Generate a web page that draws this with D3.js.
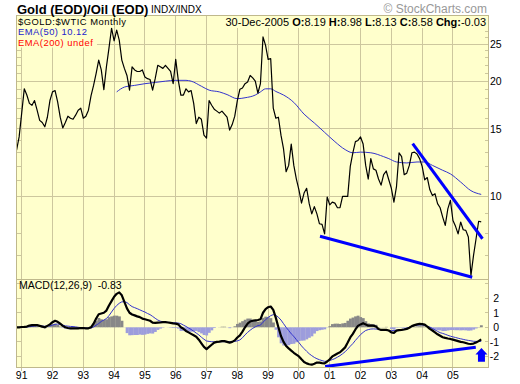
<!DOCTYPE html>
<html><head><meta charset="utf-8">
<script src="https://cdn.jsdelivr.net/npm/d3@7"></script>
<style>
html,body{margin:0;padding:0;background:#fff;}
svg{display:block;}
text{font-family:"Liberation Sans",Arial,sans-serif;}
</style></head><body>
<svg id="c" width="520" height="384"></svg>
<script>
// ---------- DATA ----------
// month index m: 0 = Jan 1991; closes start at m = -2 (Nov 1990)
const firstMonthIndex = -2;
const closes = [
 13.2,14.3,
 16.5,19.1,18.4,17.5,17.3,17.8,16.8,15.8,15.6,15.2,16.1,17.8,
 18.75,18.9,17.65,16.1,15.1,15.6,16.2,16.0,15.9,16.3,16.8,17.0,
 16.0,16.2,16.8,18.3,19.5,20.95,22.7,21.4,19.0,21.8,24.4,27.5,
 25.5,27.2,25.6,22.7,21.6,20.7,18.95,21.8,21.4,21.2,21.2,21.4,
 20.5,20.3,20.2,18.95,20.3,22.0,21.8,21.6,22.0,21.6,21.2,19.7,
 22.8,20.1,18.4,18.4,19.1,18.75,18.9,17.5,15.5,16.1,15.9,14.45,
 14.2,17.8,17.3,16.9,16.7,16.5,16.7,16.4,16.1,14.9,15.4,16.2,
 17.8,19.05,19.2,19.7,19.9,20.7,20.4,20.0,18.6,19.7,26.1,24.8,
 22.8,22.9,17.0,16.0,16.1,14.45,13.3,11.6,12.05,13.7,12.05,11.1,
 10.4,9.6,10.2,10.5,9.57,9.0,9.4,9.0,8.48,8.45,7.98,9.96,
 9.5,9.66,9.6,9.34,9.34,10.0,10.0,10.0,11.98,13.0,13.9,14.0,
 14.3,13.7,12.05,11.1,12.55,11.8,11.7,11.1,10.7,11.4,11.65,11.05,
 10.5,9.66,10.6,13.0,12.7,11.4,11.5,12.05,13.0,13.05,12.9,12.55,
 11.98,11.05,11.2,10.4,10.06,10.16,9.57,9.34,8.83,8.4,9.28,9.76,
 8.65,8.35,7.98,8.57,8.18,8.15,7.83,6.21,7.0,7.75,8.61,8.58
];
// EMA(50) read at sample months
const emaMonths = [37,40,44,48,52,56,60,64,66,70,73,77,80,84,87,91,93,95,97,99,102,104,106,110,114,118,122,126,129,132,136,141,143,146,150,154,157,160,164,167,171,175,179];
const emaValues = [18.75,19.3,19.5,19.7,19.85,20.0,20.1,20.1,20.0,19.4,18.95,18.75,18.45,18.0,18.1,18.4,18.75,19.1,19.1,18.8,18.4,18.05,17.6,16.4,15.55,14.7,13.9,13.25,13.0,13.05,13.0,12.7,12.55,12.3,12.23,12.3,12.3,12.05,11.7,11.45,10.9,10.35,10.12];
// MACD(12,26,9) line and signal, monthly from Nov 1990
const macd = [
 0,0,
 0.02,0.03,0.05,0.12,0.15,0.15,0.15,0.1,0.05,0.0,0.1,0.2,
 0.35,0.45,0.38,0.25,0.1,0.0,-0.05,-0.07,-0.07,-0.07,-0.07,-0.05,
 -0.05,-0.07,-0.07,0.0,0.25,0.6,0.9,0.95,1.0,1.15,1.5,1.8,
 2.1,2.3,2.4,2.2,1.75,1.3,1.0,0.88,0.82,0.75,0.7,0.6,
 0.55,0.5,0.45,0.32,0.3,0.32,0.33,0.35,0.35,0.33,0.3,0.27,
 0.25,0.2,0.0,-0.1,-0.25,-0.35,-0.45,-0.55,-0.65,-0.85,-1.1,-1.35,
 -1.5,-1.35,-1.2,-1.05,-1.0,-0.98,-0.95,-0.95,-1.0,-1.05,-1.0,-0.9,
 -0.7,-0.55,-0.3,0.0,0.25,0.4,0.45,0.48,0.5,0.55,1.0,1.25,
 1.38,1.43,1.2,0.65,0.0,-0.6,-1.0,-1.28,-1.45,-1.6,-1.75,-1.88,
 -2.0,-2.2,-2.38,-2.48,-2.54,-2.57,-2.5,-2.42,-2.43,-2.46,-2.48,-2.35,
 -2.2,-2.0,-1.9,-1.8,-1.72,-1.55,-1.38,-1.05,-0.7,-0.45,-0.15,0.1,
 0.2,0.28,0.2,0.11,0.11,0.11,0.05,-0.12,-0.18,-0.18,-0.18,-0.22,
 -0.35,-0.38,-0.23,-0.2,-0.18,-0.15,-0.11,-0.03,0.08,0.15,0.2,0.23,
 0.22,0.18,0.05,-0.11,-0.22,-0.35,-0.48,-0.58,-0.68,-0.73,-0.77,-0.8,
 -0.85,-0.9,-0.95,-1.0,-1.03,-1.08,-1.13,-1.15,-1.12,-1.05,-0.95,-0.83
];
const signal = [
 0,0,
 0,0.01,0.02,0.04,0.06,0.08,0.1,0.1,0.09,0.07,0.08,0.1,
 0.15,0.21,0.22,0.2,0.15,0.1,0.08,0.06,0.05,0.03,0.0,-0.02,
 -0.03,-0.05,-0.06,-0.05,0.02,0.15,0.26,0.4,0.5,0.6,0.8,1.05,
 1.3,1.5,1.65,1.75,1.76,1.7,1.55,1.42,1.35,1.28,1.2,1.12,
 1.05,0.95,0.87,0.75,0.62,0.5,0.42,0.38,0.35,0.34,0.33,0.32,
 0.3,0.29,0.25,0.15,0.06,-0.05,-0.15,-0.27,-0.4,-0.52,-0.68,-0.82,
 -0.94,-0.97,-0.99,-1.0,-1.0,-0.99,-0.99,-0.99,-0.99,-0.99,-0.99,-0.97,
 -0.93,-0.87,-0.72,-0.52,-0.35,-0.2,-0.07,0.03,0.12,0.15,0.35,0.52,
 0.68,0.8,0.87,0.82,0.69,0.5,0.25,0.0,-0.22,-0.45,-0.62,-0.85,
 -1.05,-1.28,-1.47,-1.65,-1.82,-1.95,-2.07,-2.16,-2.23,-2.29,-2.34,-2.33,
 -2.28,-2.22,-2.15,-2.05,-1.95,-1.82,-1.68,-1.5,-1.3,-1.12,-0.9,-0.7,
 -0.5,-0.35,-0.22,-0.16,-0.12,-0.11,-0.12,-0.14,-0.17,-0.19,-0.21,-0.22,
 -0.23,-0.22,-0.2,-0.18,-0.15,-0.11,-0.06,0.0,0.07,0.11,0.14,0.16,
 0.16,0.12,0.06,0.02,-0.08,-0.18,-0.28,-0.37,-0.42,-0.48,-0.55,-0.61,
 -0.66,-0.7,-0.75,-0.79,-0.83,-0.87,-0.9,-0.93,-0.96,-0.97,-0.97,-0.97
];
// trend lines drawn on the chart: [monthIndex, value]
const priceTrendLower = [[116.2,7.87],[175.5,6.15]];
const priceTrendUpper = [[152.3,13.74],[179.5,7.75]];
const macdTrend = [[118.2,-2.69],[176.9,-1.37]];
const arrowAt = {m:179.1, from:-2.37, to:-1.42};
// axis ticks
const yearLabels = ["91","92","93","94","95","96","97","98","99","00","01","02","03","04","05"];
const priceMajorTicks = [10,15,20,25];
const priceMinorTicks = [7,8,9,11,12,13,14,16,17,18,19,21,22,23,24,26,27,28,29];
const macdTicks = [2,1,0,-1,-2];
const macdMinorTicks = [3,2,1,0,-1,-2];
const legendLines = [["$GOLD:$WTIC Monthly","#000000"],["EMA(50) 10.12","#2222cc"],["EMA(200) undef","#ff0000"]];

// ---------- LAYOUT ----------
const L=16.5, R=488.5, T=15.5, MID=279.5, B=367.5;
const BG="#ffffcc", GRID="#cdc79e", BORDER="#bfb88c";
const svg=d3.select("#c");
const x=d3.scaleLinear().domain([0,179]).range([21.7,481.2]);
const y=d3.scaleLog().domain([6.065,29.69]).range([MID,T]);
const ym=d3.scaleLinear().domain([-2.763,3.285]).range([B,MID]);
const snap=v=>Math.round(v-0.5)+0.5;

svg.append("rect").attr("width",520).attr("height",384).attr("fill","#fff");
svg.append("rect").attr("x",L).attr("y",T).attr("width",R-L).attr("height",MID-T).attr("fill",BG);
svg.append("rect").attr("x",L).attr("y",MID).attr("width",R-L).attr("height",B-MID).attr("fill",BG);

const defs=svg.append("defs");
defs.append("clipPath").attr("id","cp1").append("rect").attr("x",L).attr("y",T).attr("width",R-L).attr("height",MID-T);
defs.append("clipPath").attr("id","cp2").append("rect").attr("x",L).attr("y",MID).attr("width",R-L).attr("height",B-MID);

const grid=svg.append("g").attr("stroke",GRID).attr("stroke-width",1).attr("shape-rendering","crispEdges");
const yearIdx=yearLabels.map((d,i)=>i*12);
yearIdx.forEach(m=>{
  const xx=snap(x(m));
  grid.append("line").attr("x1",xx).attr("x2",xx).attr("y1",T).attr("y2",B+3);
});
priceMajorTicks.forEach(v=>{
  const yy=snap(y(v));
  grid.append("line").attr("x1",L).attr("x2",R).attr("y1",yy).attr("y2",yy);
});
priceMinorTicks.forEach(v=>{
  const yy=snap(y(v));
  grid.append("line").attr("x1",L).attr("x2",L+4).attr("y1",yy).attr("y2",yy);
  grid.append("line").attr("x1",R-4).attr("x2",R).attr("y1",yy).attr("y2",yy);
});
macdMinorTicks.forEach(v=>{
  const yy=snap(ym(v));
  grid.append("line").attr("x1",L).attr("x2",L+4).attr("y1",yy).attr("y2",yy);
  grid.append("line").attr("x1",R-4).attr("x2",R).attr("y1",yy).attr("y2",yy);
});

// ---------- MAIN PANEL ----------
const g1=svg.append("g").attr("clip-path","url(#cp1)");
const emaPts=emaMonths.map((m,i)=>[m,emaValues[i]]);
g1.append("path").datum(emaPts)
  .attr("d",d3.line().x(d=>x(d[0])).y(d=>y(d[1])).curve(d3.curveMonotoneX))
  .attr("fill","none").attr("stroke","#3333cc").attr("stroke-width",1);
g1.append("path").datum(closes)
  .attr("d",d3.line().x((d,i)=>x(i+firstMonthIndex)).y(d=>y(d)))
  .attr("fill","none").attr("stroke","#000").attr("stroke-width",1.2).attr("stroke-linejoin","round");
[priceTrendLower,priceTrendUpper].forEach(t=>{
  g1.append("path").datum(t)
    .attr("d",d3.line().x(d=>x(d[0])).y(d=>y(d[1])))
    .attr("fill","none").attr("stroke","#0000ff").attr("stroke-width",3).attr("stroke-linecap","butt");
});

// ---------- MACD PANEL ----------
const g2=svg.append("g").attr("clip-path","url(#cp2)");
const bw=x(1)-x(0);
const hist=macd.map((d,i)=>({m:i+firstMonthIndex,v:d-signal[i]}));
g2.selectAll("rect.h").data(hist).enter().append("rect")
  .attr("x",d=>x(d.m)-bw/2).attr("width",bw+0.3)
  .attr("y",d=>Math.min(ym(0),ym(d.v))).attr("height",d=>Math.abs(ym(d.v)-ym(0)))
  .attr("fill",d=>d.v>=0?"#888888":"#9d9ddc");
g2.append("path").datum(signal)
  .attr("d",d3.line().x((d,i)=>x(i+firstMonthIndex)).y(d=>ym(d)))
  .attr("fill","none").attr("stroke","#3333cc").attr("stroke-width",1);
g2.append("path").datum(macd)
  .attr("d",d3.line().x((d,i)=>x(i+firstMonthIndex)).y(d=>ym(d)))
  .attr("fill","none").attr("stroke","#000").attr("stroke-width",2.2).attr("stroke-linejoin","round");
g2.append("path").datum(macdTrend)
  .attr("d",d3.line().x(d=>x(d[0])).y(d=>ym(d[1])))
  .attr("fill","none").attr("stroke","#0000ff").attr("stroke-width",3);
{
  const ax=x(arrowAt.m), yt=ym(arrowAt.to), yb=ym(arrowAt.from);
  const hh=6.5, hw=6, sw=3.5;
  const p=[[ax,yt],[ax+hw,yt+hh],[ax+sw,yt+hh],[ax+sw,yb],[ax-sw,yb],[ax-sw,yt+hh],[ax-hw,yt+hh]];
  g2.append("path").attr("d","M"+p.map(d=>d.join(",")).join("L")+"Z").attr("fill","#0000ff");
}

svg.append("rect").attr("x",L).attr("y",T).attr("width",R-L).attr("height",B-T)
  .attr("fill","none").attr("stroke",BORDER).attr("shape-rendering","crispEdges");
svg.append("line").attr("x1",L).attr("x2",R).attr("y1",MID).attr("y2",MID)
  .attr("stroke",BORDER).attr("shape-rendering","crispEdges");

// ---------- TEXT ----------
const fs=10.5;
svg.append("rect").attr("x",L+0.5).attr("y",T+0.5).attr("width",80).attr("height",31.5).attr("fill",BG);
legendLines.forEach(([t,c],i)=>{
  svg.append("text").attr("x",18).attr("y",24.8+i*10.6).attr("font-size",9.4)
    .attr("letter-spacing","0.5px").attr("fill",c).text(t);
});

svg.append("rect").attr("x",220).attr("y",T+0.5).attr("width",R-220-0.5).attr("height",12).attr("fill",BG);
const hdr=svg.append("text").attr("x",486).attr("y",25.5).attr("font-size",11).attr("text-anchor","end").attr("fill","#000");
[["30-Dec-2005 ",false],["O:",true],["8.19 ",false],["H:",true],["8.98 ",false],["L:",true],["8.13 ",false],["C:",true],["8.58 ",false],["Chg:",true],["-0.03",false]]
 .forEach(([t,b])=>hdr.append("tspan").attr("font-weight",b?"bold":"normal").attr("xml:space","preserve").text(t));

svg.append("text").attr("x",17).attr("y",13.5).attr("font-size",13).attr("font-weight","bold").text("Gold (EOD)/Oil (EOD)");
svg.append("text").attr("x",151).attr("y",13).attr("font-size",10).text("INDX/INDX");
svg.append("text").attr("x",487).attr("y",12.5).attr("font-size",12).attr("text-anchor","end").attr("fill","#999").text("\u00a9 StockCharts.com");

svg.append("text").attr("x",19).attr("y",289).attr("font-size",fs).attr("xml:space","preserve").text("MACD(12,26,9)  -0.83");

priceMajorTicks.forEach(v=>{
  svg.append("text").attr("x",490).attr("y",y(v)).attr("dy","0.36em").attr("font-size",fs).text(v);
});
macdTicks.forEach(v=>{
  svg.append("text").attr("x",499).attr("y",ym(v)).attr("dy","0.36em").attr("font-size",fs).attr("text-anchor","end").text(v);
});
yearLabels.forEach((t,i)=>{
  svg.append("text").attr("x",x(yearIdx[i])).attr("y",378.5).attr("font-size",fs).attr("text-anchor","middle").text(t);
});
</script>
</body></html>
